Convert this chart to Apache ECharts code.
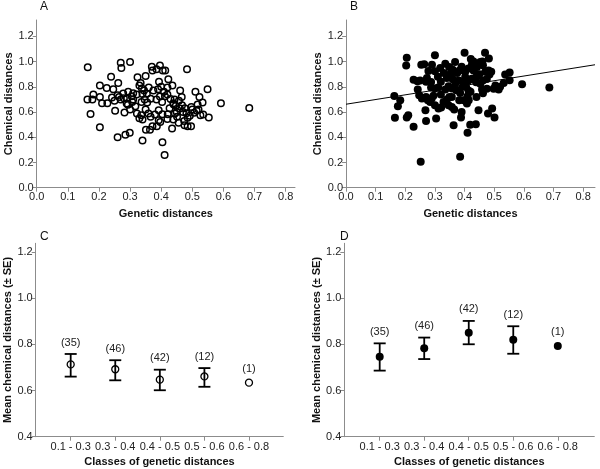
<!DOCTYPE html>
<html><head><meta charset="utf-8">
<script src="https://cdn.jsdelivr.net/npm/echarts@6/dist/echarts.min.js"></script>
<style>html,body{margin:0;padding:0;background:#fff}#c{width:600px;height:469px}</style>
</head><body><div id="c"></div>
<script>
// ---------- data ----------
const scatterA = [
[0.164,0.955],[0.30,0.997],[0.27,0.99],[0.272,0.95],[0.239,0.88],[0.262,0.83],[0.203,0.81],[0.225,0.79],[0.246,0.78],
[0.163,0.70],[0.179,0.70],[0.182,0.74],[0.203,0.72],[0.21,0.67],[0.227,0.67],[0.242,0.715],[0.173,0.585],[0.252,0.61],
[0.203,0.48],[0.26,0.40],[0.285,0.42],[0.299,0.435],[0.34,0.375],[0.404,0.36],[0.411,0.26],
[0.483,0.94],[0.37,0.96],[0.396,0.97],[0.385,0.94],[0.405,0.93],[0.372,0.93],[0.413,0.93],
[0.35,0.885],[0.324,0.875],[0.334,0.83],[0.393,0.84],[0.423,0.86],[0.436,0.81],[0.42,0.795],[0.36,0.795],[0.39,0.78],
[0.461,0.77],[0.409,0.76],[0.549,0.78],[0.51,0.76],[0.523,0.72],[0.592,0.67],[0.683,0.633],[0.553,0.557],
[0.533,0.675],[0.517,0.66],[0.497,0.64],[0.476,0.63],[0.481,0.59],[0.506,0.595],[0.526,0.575],[0.492,0.57],[0.514,0.61],
[0.457,0.69],[0.466,0.72],[0.443,0.70],[0.439,0.67],[0.427,0.63],[0.412,0.725],[0.385,0.70],[0.403,0.68],
[0.354,0.745],[0.338,0.786],[0.31,0.75],[0.294,0.76],[0.278,0.747],[0.26,0.733],[0.27,0.70],[0.28,0.71],[0.29,0.707],
[0.305,0.725],[0.321,0.74],[0.34,0.744],[0.347,0.70],[0.366,0.705],[0.289,0.667],[0.307,0.68],[0.293,0.657],[0.317,0.646],
[0.337,0.68],[0.355,0.675],[0.282,0.596],[0.322,0.588],[0.336,0.575],[0.359,0.588],[0.366,0.562],[0.34,0.54],[0.33,0.55],
[0.392,0.615],[0.404,0.583],[0.421,0.583],[0.392,0.535],[0.397,0.522],[0.372,0.488],[0.386,0.488],[0.351,0.46],[0.364,0.46],
[0.444,0.588],[0.451,0.562],[0.439,0.54],[0.456,0.515],[0.435,0.47],[0.45,0.60],[0.475,0.496],[0.485,0.488],[0.496,0.488],
[0.474,0.528],[0.485,0.554],[0.447,0.649],[0.46,0.628],[0.467,0.654],[0.43,0.704],[0.396,0.723],
[0.25,0.69],[0.265,0.72],[0.31,0.70],[0.33,0.81],[0.345,0.77],[0.375,0.77],[0.42,0.74],[0.44,0.66],[0.47,0.60],
[0.50,0.62],[0.52,0.62],[0.535,0.58],[0.38,0.58],[0.42,0.545],[0.30,0.62],[0.35,0.62],[0.40,0.80]
];
const scatterB = [
[0.205,1.03],[0.203,0.97],[0.30,1.05],[0.40,1.07],[0.469,1.07],[0.163,0.728],[0.183,0.694],[0.175,0.646],[0.165,0.554],
[0.205,0.557],[0.21,0.575],[0.228,0.483],[0.228,0.857],[0.241,0.844],[0.242,0.778],[0.247,0.733],[0.256,0.707],
[0.27,0.528],[0.268,0.615],[0.254,0.976],[0.264,0.979],[0.278,0.926],[0.29,0.976],[0.273,0.871],[0.287,0.839],[0.27,0.84],
[0.30,0.923],[0.318,0.95],[0.335,0.984],[0.368,0.997],[0.348,0.958],[0.36,0.935],[0.375,0.91],[0.383,0.93],
[0.287,0.794],[0.30,0.786],[0.311,0.794],[0.32,0.84],[0.34,0.87],[0.353,0.905],
[0.289,0.707],[0.284,0.68],[0.30,0.654],[0.312,0.628],[0.321,0.636],[0.295,0.73],[0.27,0.72],[0.276,0.694],
[0.329,0.680],[0.34,0.70],[0.349,0.72],[0.346,0.654],[0.357,0.64],[0.365,0.62],[0.357,0.72],
[0.335,0.778],[0.346,0.804],[0.357,0.786],[0.372,0.773],[0.385,0.752],
[0.304,0.549],[0.363,0.496],[0.39,0.60],[0.388,0.557],[0.382,0.694],[0.397,0.694],[0.408,0.667],[0.41,0.726],[0.414,0.694],
[0.419,0.50],[0.438,0.504],[0.41,0.435],[0.447,0.615],[0.479,0.588],[0.493,0.628],[0.501,0.557],[0.385,0.245],[0.252,0.206],
[0.594,0.82],[0.686,0.794],[0.537,0.897],[0.552,0.913],[0.552,0.852],[0.532,0.831],[0.515,0.778],[0.498,0.785],[0.504,0.81],[0.52,0.80],
[0.482,1.024],[0.462,0.971],[0.453,0.997],[0.442,0.958],[0.43,0.93],[0.421,1.02],[0.425,0.98],[0.413,0.945],[0.402,0.92],
[0.481,0.929],[0.484,0.897],[0.475,0.863],[0.462,0.85],[0.453,0.824],[0.439,0.837],[0.424,0.865],[0.413,0.85],[0.402,0.824],
[0.394,0.80],[0.402,0.877],[0.402,0.858],[0.475,0.785],[0.459,0.778],[0.462,0.75],[0.405,0.80],[0.413,0.77],[0.42,0.76],
[0.47,0.92],[0.49,0.92],[0.45,0.90],[0.44,0.88],[0.43,1.0],[0.46,1.0],[0.39,0.96],[0.38,0.85],[0.37,0.83],[0.36,0.86],
[0.32,0.74],[0.33,0.91],[0.31,0.88],[0.25,0.85],[0.44,0.72],[0.43,0.86]
];
const fitLineB = [[0, 0.662], [0.84, 0.975]];

const classes = ['0.1 - 0.3', '0.3 - 0.4', '0.4 - 0.5', '0.5 - 0.6', '0.6 - 0.8'];
const counts = [35, 46, 42, 12, 1];
const meanC = [0.713, 0.692, 0.647, 0.661, 0.634];
const lowC  = [0.660, 0.644, 0.601, 0.616, null];
const highC = [0.758, 0.731, 0.690, 0.697, null];
const meanD = [0.746, 0.783, 0.850, 0.820, 0.793];
const lowD  = [0.686, 0.736, 0.800, 0.759, null];
const highD = [0.804, 0.829, 0.901, 0.878, null];

const xTicksAB = [0, 0.1, 0.2, 0.3, 0.4, 0.5, 0.6, 0.7, 0.8];
const yTicksAB = [0, 0.2, 0.4, 0.6, 0.8, 1.0, 1.2];
const yTicksCD = [0.4, 0.6, 0.8, 1.0, 1.2];
const classIdx = [0, 1, 2, 3, 4];

// ---------- styling helpers ----------
const FONT = "'Liberation Sans', Arial, sans-serif";
const AXC = '#8c8c8c';
function axisBase(extra) {
  return Object.assign({
    type: 'value',
    splitLine: { show: false },
    axisLine: { show: true, onZero: false, lineStyle: { color: AXC, width: 1 } },
    nameLocation: 'middle',
    nameTextStyle: { fontWeight: 'bold', fontSize: 11, color: '#111', fontFamily: FONT }
  }, extra);
}
function ticks(vals, fmt, margin) {
  return {
    axisTick: { show: true, length: 4, customValues: vals, lineStyle: { color: AXC } },
    axisLabel: { customValues: vals, formatter: fmt, color: '#222', fontSize: 11, fontFamily: FONT, margin: margin }
  };
}
const f1 = v => Number(v).toFixed(1);

function errRender(means, lows, highs) {
  return function (params, api) {
    const i = params.dataIndex;
    const x = api.value(0);
    const children = [];
    const pm = api.coord([x, means[i]]);
    let topY = pm[1] - 2;
    if (lows[i] != null && highs[i] != null) {
      const pl = api.coord([x, lows[i]]);
      const ph = api.coord([x, highs[i]]);
      const st = { stroke: '#000', lineWidth: 1.8 };
      children.push({ type: 'line', shape: { x1: pl[0], y1: pl[1], x2: ph[0], y2: ph[1] }, style: st });
      children.push({ type: 'line', shape: { x1: pl[0] - 6, y1: pl[1], x2: pl[0] + 6, y2: pl[1] }, style: st });
      children.push({ type: 'line', shape: { x1: ph[0] - 6, y1: ph[1], x2: ph[0] + 6, y2: ph[1] }, style: st });
      topY = ph[1];
    }
    children.push({ type: 'text', style: { text: '(' + counts[i] + ')', x: pm[0], y: topY - 11.5,
      align: 'center', verticalAlign: 'middle', fontSize: 11, fontFamily: FONT, fill: '#222' } });
    return { type: 'group', children: children };
  };
}

const chart = echarts.init(document.getElementById('c'), null, { renderer: 'canvas' });
chart.setOption({
  animation: false,
  backgroundColor: '#fff',
  textStyle: { fontFamily: FONT },
  graphic: [
    { type: 'text', left: 40, top: 1, style: { text: 'A', fontSize: 12, fontFamily: FONT, fill: '#111' } },
    { type: 'text', left: 350, top: 1, style: { text: 'B', fontSize: 12, fontFamily: FONT, fill: '#111' } },
    { type: 'text', left: 40, top: 231, style: { text: 'C', fontSize: 12, fontFamily: FONT, fill: '#111' } },
    { type: 'text', left: 340, top: 231, style: { text: 'D', fontSize: 12, fontFamily: FONT, fill: '#111' } }
  ],
  grid: [
    { left: 36.7, top: 20, width: 258.3, height: 167.7 },
    { left: 346, top: 20, width: 249, height: 167.7 },
    { left: 35.7, top: 243.3, width: 247.6, height: 193.4 },
    { left: 344.3, top: 243.3, width: 250, height: 193.4 }
  ],
  xAxis: [
    axisBase(Object.assign({ gridIndex: 0, min: 0, max: 0.83, name: 'Genetic distances', nameGap: 21 }, ticks(xTicksAB, f1, 4))),
    axisBase(Object.assign({ gridIndex: 1, min: 0, max: 0.84, name: 'Genetic distances', nameGap: 21 }, ticks(xTicksAB, f1, 4))),
    axisBase(Object.assign({ gridIndex: 2, min: -0.785, max: 4.77, name: 'Classes of genetic distances', nameGap: 20 }, ticks(classIdx, v => classes[Math.round(v)], 5))),
    axisBase(Object.assign({ gridIndex: 3, min: -0.795, max: 4.82, name: 'Classes of genetic distances', nameGap: 20 }, ticks(classIdx, v => classes[Math.round(v)], 5)))
  ],
  yAxis: [
    axisBase(Object.assign({ gridIndex: 0, min: 0, max: 1.33, name: 'Chemical distances', nameGap: 21 }, ticks(yTicksAB, f1, 3))),
    axisBase(Object.assign({ gridIndex: 1, min: 0, max: 1.33, name: 'Chemical distances', nameGap: 21 }, ticks(yTicksAB, f1, 3))),
    axisBase(Object.assign({ gridIndex: 2, min: 0.4, max: 1.237, name: 'Mean chemical distances (\u00b1 SE)', nameGap: 21 }, ticks(yTicksCD, f1, 3))),
    axisBase(Object.assign({ gridIndex: 3, min: 0.4, max: 1.237, name: 'Mean chemical distances (\u00b1 SE)', nameGap: 21 }, ticks(yTicksCD, f1, 3)))
  ],
  series: [
    { type: 'scatter', xAxisIndex: 0, yAxisIndex: 0, data: scatterA, symbol: 'circle', symbolSize: 6.5,
      itemStyle: { color: 'rgba(0,0,0,0)', borderColor: '#000', borderWidth: 1.5, opacity: 1 } },
    { type: 'scatter', xAxisIndex: 1, yAxisIndex: 1, data: scatterB, symbol: 'circle', symbolSize: 8,
      itemStyle: { color: '#000', opacity: 1 } },
    { type: 'line', xAxisIndex: 1, yAxisIndex: 1, data: fitLineB, symbol: 'none',
      lineStyle: { color: '#000', width: 1 }, z: 3 },
    { type: 'custom', xAxisIndex: 2, yAxisIndex: 2, data: classIdx.map(i => [i, meanC[i]]),
      renderItem: errRender(meanC, lowC, highC) },
    { type: 'scatter', xAxisIndex: 2, yAxisIndex: 2, data: classIdx.map(i => [i, meanC[i]]), symbol: 'circle', symbolSize: 7,
      itemStyle: { color: 'rgba(0,0,0,0)', borderColor: '#000', borderWidth: 1.3, opacity: 1 }, z: 4 },
    { type: 'custom', xAxisIndex: 3, yAxisIndex: 3, data: classIdx.map(i => [i, meanD[i]]),
      renderItem: errRender(meanD, lowD, highD) },
    { type: 'scatter', xAxisIndex: 3, yAxisIndex: 3, data: classIdx.map(i => [i, meanD[i]]), symbol: 'circle', symbolSize: 8,
      itemStyle: { color: '#000', opacity: 1 }, z: 4 }
  ]
});
</script></body></html>
